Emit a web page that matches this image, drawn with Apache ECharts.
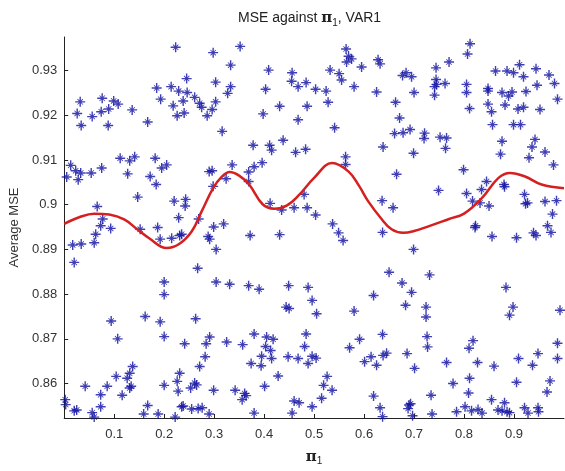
<!DOCTYPE html>
<html>
<head>
<meta charset="utf-8">
<script src="https://cdn.jsdelivr.net/npm/echarts@6/dist/echarts.min.js"></script>
<style>
html,body{margin:0;padding:0;background:#fff;}
#chart{width:565px;height:471px;}
</style>
</head>
<body>
<div id="chart"></div>
<script>
// x tick labels
const xTicks = [0.1, 0.2, 0.3, 0.4, 0.5, 0.6, 0.7, 0.8, 0.9];
// y tick labels
const yTicks = [0.86, 0.87, 0.88, 0.89, 0.9, 0.91, 0.92, 0.93];

// scatter points: pi_1 values
const piVals = [
0.223,0.245,0.185,0.214,0.229,0.246,0.193,0.238,0.261,0.271,0.218,0.226,0.240,0.032,0.026,0.034,0.056,0.076,0.074,0.089,0.099,0.108,0.088,0.136,0.167,0.005,0.013,0.023,0.028,0.033,0.054,0.075,0.112,0.131,0.141,0.127,0.147,0.182,0.172,0.184,0.195,0.205,0.066,0.220,0.243,0.242,0.229,0.269,0.077,
0.073,0.063,0.093,0.152,0.187,0.192,0.017,0.034,0.060,0.020,0.215,0.231,0.235,0.267,0.200,0.200,0.094,0.162,0.192,0.263,0.107,0.200,0.241,0.002,0.003,0.020,0.025,0.042,0.056,0.073,0.073,0.086,0.104,0.116,0.126,0.131,0.137,0.134,0.131,0.167,0.159,0.188,0.200,0.226,0.228,0.231,0.235,0.238,0.253,0.261,0.265,0.271,0.255,0.268,0.276,0.222,0.060,
0.298,0.352,0.333,0.303,0.275,0.333,0.327,0.303,0.296,0.286,0.316,0.409,0.403,0.456,0.455,0.468,0.484,0.503,0.524,0.431,0.486,0.528,0.398,0.468,0.541,0.564,0.569,0.575,0.565,0.532,0.550,0.555,0.580,0.595,0.628,0.625,0.378,0.411,0.415,0.438,0.463,0.483,0.563,0.563,0.290,0.296,0.336,0.324,0.298,0.369,0.369,0.380,0.396,0.480,0.412,0.435,0.460,0.486,0.503,0.537,0.319,0.299,
0.812,0.807,0.632,0.770,0.744,0.677,0.684,0.695,0.744,0.745,0.762,0.741,0.741,0.700,0.805,0.805,0.663,0.811,0.671,0.848,0.848,0.863,0.886,0.899,0.911,0.919,0.944,0.970,0.981,0.946,0.924,0.876,0.896,0.889,0.882,0.848,0.855,0.908,0.919,0.952,0.987,0.857,0.899,0.913,0.661,0.678,0.692,0.721,0.720,0.752,0.765,0.763,0.638,0.699,0.876,0.942,0.936,0.873,0.930,0.962,0.979,0.665,0.799,0.749,0.845,0.880,0.881,0.835,0.805,0.817,0.832,0.850,0.921,0.923,0.927,0.962,0.985,0.977,0.967,0.636,0.658,0.823,
0.288,0.291,0.304,0.372,0.431,0.549,0.558,0.304,0.331,0.369,0.390,0.449,0.488,0.496,0.444,0.450,0.505,0.619,0.580,0.291,0.284,0.325,0.357,0.380,0.405,0.418,0.403,0.413,0.484,0.481,0.591,0.571,0.282,0.395,0.394,0.374,0.415,0.448,0.468,0.488,0.496,0.504,0.614,0.601,0.625,0.299,0.342,0.361,0.356,0.364,0.401,0.428,0.526,0.519,0.536,0.515,0.619,0.460,0.470,0.496,0.290,0.380,0.456,0.632,
0.637,0.822,0.856,0.905,0.939,0.944,0.974,0.699,0.650,0.731,0.676,0.695,0.683,0.724,0.724,0.884,0.898,0.891,0.992,0.637,0.726,0.727,0.818,0.810,0.987,0.638,0.645,0.686,0.701,0.765,0.827,0.860,0.909,0.948,0.937,0.987,0.778,0.811,0.905,0.972,0.966,0.809,0.734,0.855,0.690,0.688,0.693,0.637,0.697,0.736,0.785,0.802,0.815,0.828,0.836,0.868,0.876,0.881,0.886,0.891,0.921,0.928,0.948,0.949
];
// scatter points: average MSE values
const mseVals = [
0.9352,0.9282,0.9261,0.9264,0.9254,0.9251,0.9236,0.9232,0.9240,0.9227,0.9221,0.9199,0.9205,0.9230,0.9204,0.9177,0.9197,0.9238,0.9208,0.9214,0.9232,0.9225,0.9177,0.9212,0.9185,0.9062,0.9088,0.9076,0.9056,0.9071,0.9071,0.9082,0.9104,0.9098,0.9107,0.9069,0.9017,0.9104,0.9063,0.9045,0.9082,0.9089,0.8996,0.9008,0.9012,0.8997,0.8971,0.8968,0.8968,
0.8953,0.8934,0.8947,0.8945,0.8949,0.8923,0.8910,0.8912,0.8915,0.8871,0.8925,0.8931,0.8934,0.8858,0.8827,0.8799,0.8740,0.8750,0.8738,0.8745,0.8700,0.8705,0.8689,0.8564,0.8553,0.8539,0.8541,0.8594,0.8535,0.8575,0.8548,0.8594,0.8616,0.8574,0.8612,0.8623,0.8638,0.8594,0.8590,0.8551,0.8532,0.8532,0.8596,0.8605,0.8583,0.8623,0.8548,0.8550,0.8590,0.8601,0.8597,0.8638,0.8543,0.8544,0.8546,0.8525,0.8525,
0.9340,0.9354,0.9312,0.9274,0.9218,0.9264,0.9249,0.9230,0.9213,0.9199,0.9164,0.9301,0.9258,0.9295,0.9276,0.9264,0.9273,0.9258,0.9254,0.9220,0.9220,0.9229,0.9203,0.9190,0.9172,0.9348,0.9332,0.9326,0.9319,0.9301,0.9293,0.9279,0.9264,0.9308,0.9324,0.9252,0.9133,0.9133,0.9122,0.9144,0.9117,0.9124,0.9107,0.9090,0.9074,0.9076,0.9089,0.9058,0.9041,0.9073,0.9052,0.9085,0.9094,0.9023,0.9003,0.8988,0.8993,0.8993,0.8977,0.8957,0.8957,0.8950,
0.9360,0.9337,0.9315,0.9319,0.9306,0.9289,0.9295,0.9286,0.9280,0.9269,0.9271,0.9264,0.9245,0.9251,0.9269,0.9251,0.9229,0.9215,0.9194,0.9260,0.9254,0.9299,0.9299,0.9295,0.9313,0.9286,0.9304,0.9290,0.9271,0.9267,0.9253,0.9251,0.9252,0.9243,0.9223,0.9225,0.9208,0.9214,0.9218,0.9213,0.9236,0.9179,0.9179,0.9179,0.9159,0.9161,0.9168,0.9160,0.9148,0.9151,0.9149,0.9126,0.9129,0.9115,0.9142,0.9146,0.9129,0.9113,0.9105,0.9118,0.9089,0.9068,0.9078,0.9032,0.9052,0.9045,0.9040,0.9034,0.9025,0.9008,0.9004,0.8997,0.9023,0.9002,0.9004,0.9007,0.9009,0.8979,0.8953,0.9009,0.8993,0.8953,
0.8929,0.8923,0.8900,0.8931,0.8933,0.8937,0.8920,0.8827,0.8822,0.8819,0.8811,0.8819,0.8815,0.8786,0.8771,0.8768,0.8756,0.8797,0.8762,0.8704,0.8689,0.8693,0.8687,0.8711,0.8704,0.8699,0.8683,0.8674,0.8711,0.8683,0.8699,0.8680,0.8660,0.8661,0.8640,0.8645,0.8656,0.8660,0.8656,0.8645,0.8661,0.8657,0.8660,0.8649,0.8641,0.8585,0.8585,0.8578,0.8564,0.8573,0.8594,0.8617,0.8616,0.8596,0.8585,0.8567,0.8572,0.8561,0.8557,0.8548,0.8532,0.8534,0.8534,0.8546,
0.8938,0.8949,0.8929,0.8926,0.8937,0.8931,0.8938,0.8900,0.8849,0.8843,0.8825,0.8804,0.8775,0.8771,0.8749,0.8815,0.8771,0.8753,0.8764,0.8710,0.8705,0.8682,0.8696,0.8679,0.8690,0.8663,0.8668,0.8667,0.8634,0.8647,0.8647,0.8639,0.8656,0.8667,0.8641,0.8656,0.8600,0.8612,0.8603,0.8606,0.8581,0.8579,0.8574,0.8564,0.8552,0.8544,0.8555,0.8526,0.8528,0.8532,0.8537,0.8548,0.8539,0.8542,0.8534,0.8541,0.8539,0.8557,0.8537,0.8535,0.8546,0.8534,0.8546,0.8537
];

// fitted curve (red)
const curvePi  = [0.0,0.03,0.06,0.09,0.12,0.146,0.17,0.205,0.23,0.255,0.275,0.298,0.315,0.331,0.35,0.37,0.397,0.42,0.445,0.47,0.50,0.536,0.569,0.59,0.608,0.635,0.655,0.678,0.70,0.73,0.77,0.80,0.836,0.869,0.892,0.922,0.955,1.0];
const curveMse = [0.8957,0.8972,0.8980,0.8978,0.8967,0.8945,0.8925,0.8903,0.8912,0.8940,0.8985,0.9037,0.9062,0.9073,0.9065,0.9045,0.9001,0.8991,0.8998,0.9022,0.9060,0.9093,0.9074,0.9042,0.9008,0.8968,0.8945,0.8937,0.8941,0.8952,0.8968,0.8980,0.9015,0.9060,0.9071,0.9063,0.9045,0.9037];

const scatterData = piVals.map((p, i) => [p, mseVals[i]]);
const curveData = curvePi.map((p, i) => [p, curveMse[i]]);

// asterisk marker: strong plus, thinner diagonals
const star = 'path://M8.6,0L11.4,0L11.4,20L8.6,20Z M0,8.6L20,8.6L20,11.4L0,11.4Z M4,5.2L5.2,4L16,14.8L14.8,16Z M14.8,4L16,5.2L5.2,16L4,14.8Z M7,7L13,7L13,13L7,13Z';

const FONT = '"Liberation Sans", Arial, sans-serif';
const chart = echarts.init(document.getElementById('chart'), null, {renderer: 'canvas'});
chart.setOption({
  animation: false,
  backgroundColor: '#ffffff',
  title: {
    text: '{t|MSE against }{p|π}{s|1}{t|, VAR1}',
    left: 233,
    top: 3,
    textStyle: {
      fontWeight: 'normal',
      rich: {
        t: {fontFamily: FONT, fontSize: 14, fontWeight: 'normal', color: '#222', lineHeight: 20},
        p: {fontFamily: '"DejaVu Serif", serif', fontSize: 15, fontWeight: 'bold', color: '#222', lineHeight: 20},
        s: {fontFamily: FONT, fontSize: 10, fontWeight: 'normal', color: '#222', lineHeight: 10, verticalAlign: 'bottom'}
      }
    }
  },
  grid: {left: 60, right: 1, top: 37, bottom: 46, containLabel: false},
  xAxis: {
    type: 'value',
    min: 0, max: 1, interval: 0.1,
    name: '{p|π}{s|1}',
    nameLocation: 'middle',
    nameGap: 30,
    nameTextStyle: {
      rich: {
        p: {fontFamily: '"DejaVu Serif", serif', fontSize: 15, fontWeight: 'bold', color: '#222', lineHeight: 18},
        s: {fontFamily: FONT, fontSize: 10, color: '#222', lineHeight: 10, verticalAlign: 'bottom'}
      }
    },
    axisLine: {show: true, lineStyle: {color: '#222', width: 1}},
    axisTick: {show: true, inside: true, length: 4, lineStyle: {color: '#222'}},
    axisLabel: {
      show: true, margin: 10, color: '#333', fontFamily: FONT, fontSize: 13,
      showMinLabel: false, showMaxLabel: false,
      formatter: function (v) {
        const r = Math.round(v * 10) / 10;
        return xTicks.indexOf(r) >= 0 ? String(r) : '';
      }
    },
    splitLine: {show: false}
  },
  yAxis: {
    type: 'value',
    min: 0.8523, max: 0.9375,
    splitNumber: 8, minInterval: 0.01, maxInterval: 0.01,
    name: 'Average MSE',
    nameLocation: 'middle',
    nameGap: 42,
    nameTextStyle: {fontFamily: FONT, fontSize: 13, color: '#333'},
    axisLine: {show: true, lineStyle: {color: '#222', width: 1}},
    axisTick: {show: true, inside: true, length: 4, lineStyle: {color: '#222'}},
    axisLabel: {
      show: true, margin: 7, color: '#333', fontFamily: FONT, fontSize: 13,
      showMinLabel: false, showMaxLabel: false,
      formatter: function (v) {
        const r = Math.round(v * 100) / 100;
        return yTicks.indexOf(r) >= 0 && Math.abs(v - r) < 1e-6 ? String(r) : '';
      }
    },
    splitLine: {show: false}
  },
  series: [
    {
      type: 'scatter',
      data: scatterData,
      symbol: star,
      symbolSize: 10,
      itemStyle: {color: '#0f0fa0'},
      clip: false,
      z: 2
    },
    {
      type: 'line',
      data: curveData,
      smooth: 0.4,
      showSymbol: false,
      symbol: 'none',
      lineStyle: {color: '#d42020', width: 2.5},
      z: 3
    }
  ]
});
</script>
</body>
</html>
